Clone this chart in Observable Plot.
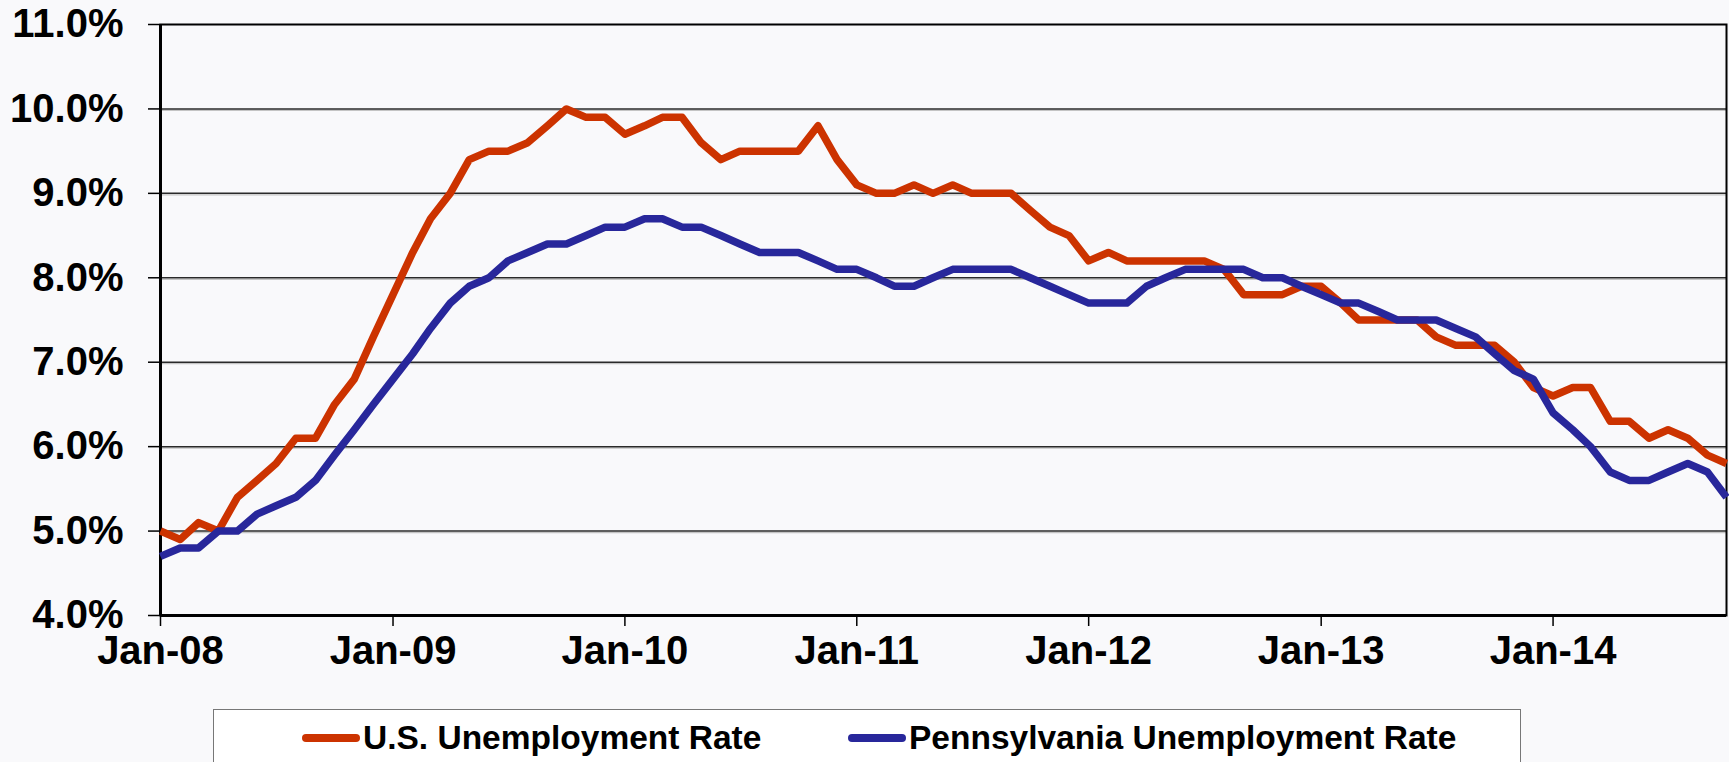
<!DOCTYPE html>
<html>
<head>
<meta charset="utf-8">
<script src="https://cdn.jsdelivr.net/npm/d3@7"></script>
<script src="https://cdn.jsdelivr.net/npm/@observablehq/plot@0.6"></script>
<style>
  html, body { margin: 0; padding: 0; background: #f9f9fb; overflow: hidden; width: 1729px; height: 762px; }
  #chart { position: absolute; left: 0; top: 0; }
  #legend { position: absolute; left: 213px; top: 709px; width: 1308px; height: 70px; background: #ffffff;
            border: 1.5px solid #777; box-sizing: border-box;
            font: bold 33.5px "Liberation Sans", Arial, sans-serif; color: #000; }
  .item { position: absolute; top: 0; height: 56px; display: flex; align-items: center; white-space: nowrap; }
  .sw { display: inline-block; width: 58px; height: 8px; border-radius: 4px; margin-right: 3px; }
</style>
</head>
<body>
<div id="chart"></div>
<div id="legend"></div>
<script>
// ---- data (monthly, Jan-08 .. Oct-14) ----
const startMonth = "2008-01-01";
const usRate = [
  5.0, 4.9, 5.1, 5.0, 5.4, 5.6, 5.8, 6.1, 6.1, 6.5, 6.8, 7.3,
  7.8, 8.3, 8.7, 9.0, 9.4, 9.5, 9.5, 9.6, 9.8, 10.0, 9.9, 9.9,
  9.7, 9.8, 9.9, 9.9, 9.6, 9.4, 9.5, 9.5, 9.5, 9.5, 9.8, 9.4,
  9.1, 9.0, 9.0, 9.1, 9.0, 9.1, 9.0, 9.0, 9.0, 8.8, 8.6, 8.5,
  8.2, 8.3, 8.2, 8.2, 8.2, 8.2, 8.2, 8.1, 7.8, 7.8, 7.8, 7.9,
  7.9, 7.7, 7.5, 7.5, 7.5, 7.5, 7.3, 7.2, 7.2, 7.2, 7.0, 6.7,
  6.6, 6.7, 6.7, 6.3, 6.3, 6.1, 6.2, 6.1, 5.9, 5.8
];
const paRate = [
  4.7, 4.8, 4.8, 5.0, 5.0, 5.2, 5.3, 5.4, 5.6, 5.9, 6.2, 6.5,
  6.8, 7.1, 7.4, 7.7, 7.9, 8.0, 8.2, 8.3, 8.4, 8.4, 8.5, 8.6,
  8.6, 8.7, 8.7, 8.6, 8.6, 8.5, 8.4, 8.3, 8.3, 8.3, 8.2, 8.1,
  8.1, 8.0, 7.9, 7.9, 8.0, 8.1, 8.1, 8.1, 8.1, 8.0, 7.9, 7.8,
  7.7, 7.7, 7.7, 7.9, 8.0, 8.1, 8.1, 8.1, 8.1, 8.0, 8.0, 7.9,
  7.8, 7.7, 7.7, 7.6, 7.5, 7.5, 7.5, 7.4, 7.3, 7.1, 6.9, 6.8,
  6.4, 6.2, 6.0, 5.7, 5.6, 5.6, 5.7, 5.8, 5.7, 5.4
];
const seriesNames = ["U.S. Unemployment Rate", "Pennsylvania Unemployment Rate"];
const seriesColors = ["#cc3300", "#28279b"];
const yTicks = [4, 5, 6, 7, 8, 9, 10, 11];
const xTickLabels = ["Jan-08", "Jan-09", "Jan-10", "Jan-11", "Jan-12", "Jan-13", "Jan-14"];

// ---- build table ----
const start = new Date(startMonth + "T00:00:00Z");
const dates = usRate.map((_, i) => d3.utcMonth.offset(start, i));
const table = dates.map((date, i) => ({date, us: usRate[i], pa: paRate[i]}));
const parseLabel = d3.utcParse("%b-%y");
const xTicks = xTickLabels.map(parseLabel);

const chart = Plot.plot({
  width: 1729,
  height: 700,
  marginLeft: 160,
  marginRight: 3,
  marginTop: 24,
  marginBottom: 85,
  style: {
    background: "transparent",
    fontFamily: "'Liberation Sans', Arial, sans-serif",
    fontSize: "40px",
    fontWeight: "bold",
    color: "#000",
    overflow: "visible"
  },
  x: {type: "utc", domain: [dates[0], dates[dates.length - 1]]},
  y: {domain: [yTicks[0], yTicks[yTicks.length - 1]]},
  marks: [
    Plot.ruleY(yTicks.slice(1, -1), {stroke: "#c4c4c4", strokeWidth: 1.2, dy: 1.5}),
    Plot.ruleY(yTicks.slice(1, -1), {stroke: "#2a2a2a", strokeWidth: 1.5}),
    Plot.frame({stroke: "#000", strokeWidth: 2}),
    Plot.ruleX([dates[0]], {stroke: "#000", strokeWidth: 3}),
    Plot.ruleY([yTicks[0]], {stroke: "#000", strokeWidth: 3}),
    Plot.lineY(table, {x: "date", y: "us", stroke: seriesColors[0], strokeWidth: 7.5, strokeLinejoin: "round", strokeLinecap: "butt"}),
    Plot.lineY(table, {x: "date", y: "pa", stroke: seriesColors[1], strokeWidth: 7.5, strokeLinejoin: "round", strokeLinecap: "butt"}),
    Plot.axisY({ticks: yTicks, tickSize: 12, tickPadding: 25, tickFormat: d => d.toFixed(1) + "%", stroke: "#000", strokeWidth: 1.5}),
    Plot.axisX({ticks: xTicks, tickSize: 11, tickPadding: 9.5, tickFormat: d3.utcFormat("%b-%y"), stroke: "#000", strokeWidth: 1.5})
  ]
});
document.getElementById("chart").appendChild(chart);

// ---- legend ----
const legend = document.getElementById("legend");
const itemLefts = [88, 634];
seriesNames.forEach((name, i) => {
  const it = document.createElement("div");
  it.className = "item";
  it.style.left = itemLefts[i] + "px";
  const sw = document.createElement("span");
  sw.className = "sw";
  sw.style.background = seriesColors[i];
  const tx = document.createElement("span");
  tx.textContent = name;
  it.appendChild(sw);
  it.appendChild(tx);
  legend.appendChild(it);
});
</script>
</body>
</html>
